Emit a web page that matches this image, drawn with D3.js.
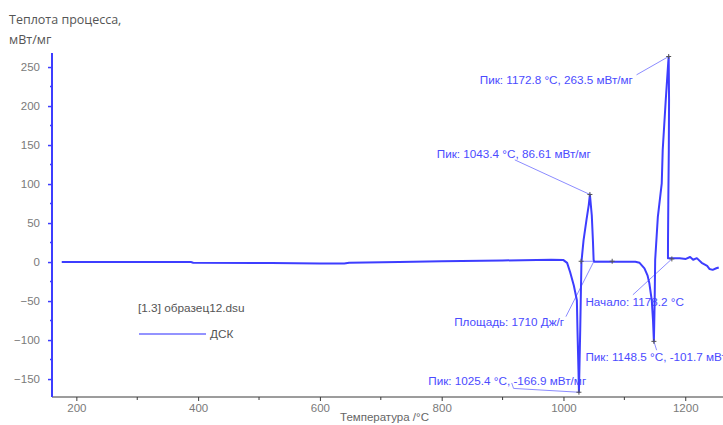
<!DOCTYPE html>
<html>
<head>
<meta charset="utf-8">
<script src="https://cdn.jsdelivr.net/npm/d3@7"></script>
<style>
  html, body { margin: 0; padding: 0; background: #fff; }
  svg { display: block; }
</style>
</head>
<body>
<svg id="chart" width="723" height="425"></svg>
<script>
// DSC trace: temperature (°C) and heat flow (mW/mg), in drawing order
const temperature = [176, 300, 388, 392, 520, 600, 640, 648, 730, 800, 900, 980, 1000,
  1006, 1011, 1017, 1022, 1023, 1024.6, 1025.4,
  1027.5, 1029.5, 1033, 1037.8, 1041.5, 1043.4,
  1046.5, 1048.5, 1049.5, 1050.5, 1080, 1110, 1118, 1125, 1133, 1138, 1141, 1145, 1147, 1148.5,
  1149.8, 1150.6, 1155, 1161.4, 1163, 1168, 1172, 1172.8,
  1173.4, 1173, 1172.2, 1171.7, 1171.6, 1178, 1191, 1201, 1208, 1213, 1219, 1227, 1236, 1240, 1245, 1251, 1255];
const heatFlow = [0, 0, 0, -0.8, -1.2, -2, -2, -1, 0, 1, 2, 3, 2.5,
  -1, -13, -30, -49, -87, -138, -166.9,
  -87, 0, 28, 54, 73, 86.61,
  60, 25, 3, 0.5, 0.5, 0.5, 0.3, -1, -8, -17, -27, -49, -74, -101.7,
  -49, 2.6, 58, 101, 144, 208, 255, 263.5,
  208, 144, 79, 28, 5, 5, 5, 4, 6.5, 3, 5, -1, -5, -9, -10, -8, -7];

// Axis ticks
const xMajor = [200, 400, 600, 800, 1000, 1200];
const xMinor = [300, 500, 700, 900, 1100];
const yMajor = [-150, -100, -50, 0, 50, 100, 150, 200, 250];
const yMinor = [-125, -75, -25, 25, 75, 125, 175, 225];

// Peak annotations: the point marked and the label text
const peakT = [1172.8, 1043.4, 1148.5, 1025.4];
const peakV = [263.5, 86.61, -101.7, -166.9];
const peakText = ["Пик: 1172.8 °C, 263.5 мВт/мг", "Пик: 1043.4 °C, 86.61 мВт/мг",
                  "Пик: 1148.5 °C, -101.7 мВт/мг", "Пик: 1025.4 °C, -166.9 мВт/мг"];
const areaText = "Площадь: 1710 Дж/г";
const onsetText = "Начало: 1178.2 °C";
const legendTitle = "[1.3] образец12.dsu";
const legendName = "ДСК";

const svg = d3.select("#chart");
const x = d3.scaleLinear().domain([160, 1262]).range([52, 723]);
const y = d3.scaleLinear().domain([-173, 268]).range([397, 53]);

const curveBlue = "#3d3dff";
const labelBlue = "#4b4bff";
const leaderBlue = "#8c8cff";
const tickGrey = "#7a7a7a";

// Axis titles
svg.append("text").attr("x", 9).attr("y", 24)
  .attr("font-family", "'Open Sans', sans-serif").attr("font-size", 12.5).attr("fill", "#555")
  .text("Теплота процесса,");
svg.append("text").attr("x", 9).attr("y", 44)
  .attr("font-family", "'Open Sans', sans-serif").attr("font-size", 12.5).attr("fill", "#555")
  .text("мВт/мг");

// X axis
const xAxisG = svg.append("g").attr("transform", `translate(0,${y(-173)})`);
xAxisG.call(d3.axisBottom(x).tickValues(xMajor).tickSize(4).tickPadding(3).tickFormat(d3.format("d")));
xAxisG.select(".domain").attr("stroke", "#3a3a3a").attr("d", `M${x(160)},0H${x(1262)}`);
xAxisG.selectAll(".tick line").attr("stroke", "#3a3a3a");
xAxisG.selectAll(".tick text").attr("fill", tickGrey)
  .attr("font-family", "'Liberation Sans', Arial, sans-serif").attr("font-size", 11.5);
xAxisG.selectAll(".minor").data(xMinor).enter().append("line")
  .attr("x1", d => x(d)).attr("x2", d => x(d)).attr("y1", 0).attr("y2", 3)
  .attr("stroke", "#3a3a3a");

svg.append("text").attr("x", 340).attr("y", 421)
  .attr("font-family", "'Liberation Sans', Arial, sans-serif").attr("font-size", 11.5).attr("fill", "#666")
  .text("Температура /°C");

// Y axis
const yAxisG = svg.append("g").attr("transform", `translate(${x(160)},0)`);
yAxisG.call(d3.axisLeft(y).tickValues(yMajor).tickSize(4).tickPadding(8).tickFormat(d3.format("d")));
yAxisG.select(".domain").attr("stroke", curveBlue).attr("stroke-width", 2)
  .attr("d", `M0,${y(268)}V${y(-173)}`);
yAxisG.selectAll(".tick line").attr("stroke", curveBlue).attr("stroke-width", 1.5);
yAxisG.selectAll(".tick text").attr("fill", tickGrey)
  .attr("font-family", "'Liberation Sans', Arial, sans-serif").attr("font-size", 11.5);
yAxisG.selectAll(".minor").data(yMinor).enter().append("line")
  .attr("x1", -2).attr("x2", 0).attr("y1", d => y(d)).attr("y2", d => y(d))
  .attr("stroke", curveBlue).attr("stroke-width", 1.5);

// Legend
svg.append("text").attr("x", 138).attr("y", 312)
  .attr("font-family", "'Liberation Sans', Arial, sans-serif").attr("font-size", 11.8).attr("fill", "#555")
  .text(legendTitle);
svg.append("line").attr("x1", 139).attr("x2", 206).attr("y1", 334).attr("y2", 334)
  .attr("stroke", "#6f6fff").attr("stroke-width", 1.5);
svg.append("text").attr("x", 210).attr("y", 338)
  .attr("font-family", "'Liberation Sans', Arial, sans-serif").attr("font-size", 11.8).attr("fill", "#555")
  .text(legendName);

// Annotation leaders and integration baseline
const leaders = svg.append("g").attr("stroke", leaderBlue).attr("stroke-width", 1).attr("fill", "none");
const seg = (t1, v1, t2, v2) => leaders.append("line")
  .attr("x1", x(t1)).attr("y1", y(v1)).attr("x2", x(t2)).attr("y2", y(v2));
seg(1120, 240, peakT[0], peakV[0]);
seg(920, 131, peakT[1], peakV[1]);
seg(1153, -113, peakT[2], peakV[2]);
leaders.append("polyline")
  .attr("points", [[915, -155], [918, -162], [peakT[3], peakV[3]]].map(p => [x(p[0]), y(p[1])].join(",")).join(" "));
seg(1029, 1, 1080, 1);
seg(1050, 1, 1004, -70);
seg(1114, -42, 1178, 4);

// Annotation labels
const labels = svg.append("g").attr("fill", labelBlue)
  .attr("font-family", "'Liberation Sans', Arial, sans-serif").attr("font-size", 11.7);
labels.append("text").attr("x", x(1114)).attr("y", y(233) + 4).attr("text-anchor", "end").text(peakText[0]);
labels.append("text").attr("x", x(792)).attr("y", y(139) + 4).text(peakText[1]);
labels.append("text").attr("x", x(1036)).attr("y", y(-122) + 4).text(peakText[2]);
labels.append("text").attr("x", x(778)).attr("y", y(-153) + 4).text(peakText[3]);
labels.append("text").attr("x", x(1001)).attr("y", y(-77) + 4).attr("text-anchor", "end").text(areaText);
labels.append("text").attr("x", x(1036)).attr("y", y(-51) + 4).text(onsetText);

// DSC curve
const line = d3.line().x((d, i) => x(temperature[i])).y(d => y(d));
svg.append("path").datum(heatFlow)
  .attr("d", line)
  .attr("fill", "none").attr("stroke", curveBlue).attr("stroke-width", 2)
  .attr("stroke-linejoin", "round");

// Point markers on the curve
const markT = peakT.concat([1029, 1080, 1178]);
const markV = peakV.concat([1, 1, 4]);
const marks = svg.append("g").attr("stroke", "#555").attr("stroke-width", 1);
markT.forEach((t, i) => {
  const cx = x(t), cy = y(markV[i]);
  marks.append("line").attr("x1", cx - 2.5).attr("x2", cx + 2.5).attr("y1", cy).attr("y2", cy);
  marks.append("line").attr("x1", cx).attr("x2", cx).attr("y1", cy - 2.5).attr("y2", cy + 2.5);
});
</script>
</body>
</html>
